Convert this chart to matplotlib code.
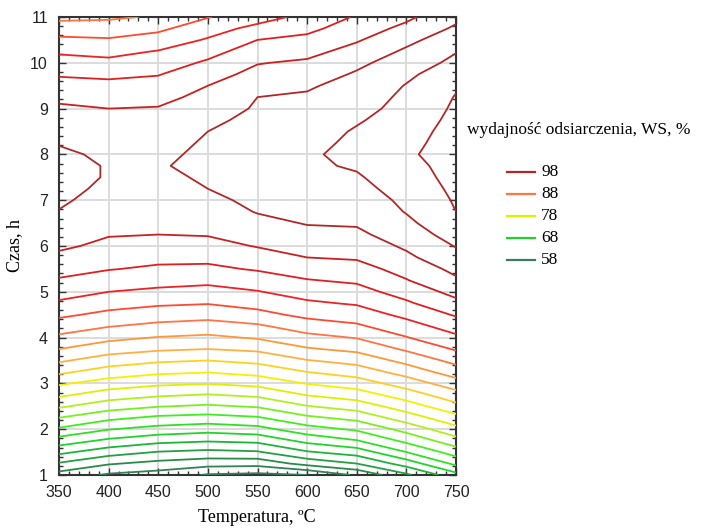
import numpy as np
import matplotlib
matplotlib.use("Agg")
import matplotlib.pyplot as plt
from matplotlib.colors import LinearSegmentedColormap
from matplotlib.lines import Line2D
from matplotlib.ticker import MultipleLocator

# Temperature grid (°C) and time grid (h)
temperature = [350, 400, 450, 500, 550, 600, 650, 700, 750]
time_h = [1.00, 1.25, 1.50, 1.75, 2.00, 2.25, 2.50, 2.75, 3.00, 3.25,
          3.50, 3.75, 4.00, 4.25, 4.50, 4.75, 5.00, 5.25, 5.50, 5.75,
          6.00, 6.25, 6.50, 6.75, 7.00, 7.25, 7.50, 7.75, 8.00, 8.25,
          8.50, 8.75, 9.00, 9.25, 9.50, 9.75, 10.00, 10.25, 10.50, 10.75,
          11.00]

# Desulphurisation efficiency WS (%), one row per time value,
# one column per temperature value
ws = [
    [61.2, 59.7, 59.1, 57.8, 57.5, 58.0, 60.3, 63.6, 67.3],
    [63.8, 62.2, 61.4, 60.8, 60.7, 62.7, 64.0, 66.9, 70.5],
    [66.5, 64.9, 63.9, 63.5, 63.8, 65.8, 66.9, 70.0, 72.9],
    [69.1, 67.6, 66.6, 66.2, 66.5, 68.6, 69.9, 72.5, 75.2],
    [71.7, 70.1, 69.3, 68.8, 69.3, 71.2, 72.3, 74.7, 77.4],
    [74.0, 72.5, 71.6, 71.3, 71.8, 73.6, 74.6, 77.0, 79.3],
    [76.3, 74.9, 74.1, 73.7, 74.2, 75.9, 76.9, 79.0, 81.4],
    [78.4, 77.0, 76.3, 75.9, 76.4, 78.1, 79.0, 81.0, 83.2],
    [80.3, 79.1, 78.4, 78.1, 78.6, 80.1, 81.0, 82.9, 85.1],
    [82.4, 81.1, 80.4, 80.1, 80.7, 82.0, 82.9, 84.8, 87.0],
    [84.3, 83.0, 82.3, 82.0, 82.5, 83.9, 84.7, 86.6, 88.6],
    [86.0, 84.9, 84.3, 84.0, 84.4, 85.8, 86.5, 88.3, 90.2],
    [87.6, 86.5, 85.9, 85.6, 86.2, 87.4, 88.1, 89.9, 91.6],
    [89.0, 88.1, 87.5, 87.2, 87.7, 89.0, 89.7, 91.2, 92.9],
    [90.4, 89.5, 89.0, 88.7, 89.4, 90.5, 91.0, 92.5, 94.2],
    [91.7, 90.8, 90.3, 90.1, 90.7, 91.7, 92.2, 93.7, 95.5],
    [92.8, 92.0, 91.6, 91.3, 91.9, 92.8, 93.3, 94.8, 96.6],
    [93.8, 93.1, 92.7, 92.5, 93.0, 93.9, 94.3, 95.9, 97.7],
    [94.7, 94.1, 93.7, 93.6, 94.2, 94.9, 95.3, 96.7, 98.5],
    [95.6, 94.8, 94.5, 94.5, 95.2, 96.0, 96.2, 97.6, 99.4],
    [96.3, 95.6, 95.3, 95.4, 96.1, 96.7, 96.9, 98.3, 100.1],
    [96.8, 96.1, 96.0, 96.1, 96.8, 97.5, 97.6, 99.0, 100.8],
    [97.4, 96.4, 96.3, 96.6, 97.5, 98.1, 98.2, 99.6, 101.4],
    [97.9, 96.7, 96.6, 97.1, 98.1, 98.4, 98.6, 100.1, 102.0],
    [98.4, 97.0, 96.9, 97.6, 98.4, 98.7, 99.0, 100.4, 102.2],
    [99.0, 97.3, 97.2, 98.0, 98.6, 99.1, 99.4, 100.8, 102.4],
    [99.0, 97.8, 97.5, 98.3, 98.9, 99.4, 99.8, 101.1, 102.6],
    [99.0, 97.8, 97.8, 98.6, 99.2, 99.7, 100.2, 101.4, 102.7],
    [98.6, 97.4, 97.5, 98.5, 99.2, 99.6, 100.8, 101.7, 102.9],
    [97.8, 96.9, 97.1, 98.3, 98.9, 99.3, 100.5, 101.4, 102.9],
    [97.3, 96.6, 96.8, 98.0, 98.7, 99.1, 100.2, 101.2, 102.7],
    [96.8, 96.3, 96.5, 97.6, 98.5, 98.8, 99.8, 100.9, 102.5],
    [96.3, 96.0, 96.1, 97.1, 98.2, 98.5, 99.4, 100.6, 102.3],
    [95.6, 95.2, 95.5, 96.5, 98.0, 98.2, 99.0, 100.4, 102.1],
    [94.7, 94.5, 94.7, 96.0, 97.3, 97.8, 98.6, 100.1, 101.8],
    [93.8, 93.6, 93.9, 95.2, 96.6, 97.1, 98.2, 99.6, 101.2],
    [92.8, 92.5, 93.0, 94.3, 95.9, 96.3, 97.6, 98.9, 100.5],
    [91.7, 91.4, 92.1, 93.3, 95.0, 95.4, 96.7, 98.3, 99.9],
    [90.4, 90.2, 90.8, 92.2, 94.0, 94.5, 95.8, 97.5, 99.1],
    [89.0, 88.9, 89.6, 91.1, 92.6, 93.5, 95.0, 96.5, 98.3],
    [87.5, 87.7, 88.2, 89.9, 91.1, 92.6, 94.2, 95.6, 97.5],
]

# Contour levels and the levels listed in the key
levels = list(range(58, 104, 2))
legend_levels = [98, 88, 78, 68, 58]

# Green -> yellow -> orange -> red scale for 58..98 %
anchor_values = [58, 62, 66, 68, 72, 76, 78, 80, 82, 84, 86, 88, 90, 92, 94, 96, 98]
anchor_colors = ["#3a7a5e", "#2a8a4a", "#1eb43a", "#22d42a", "#40ee20", "#b0f020",
                 "#dcf000", "#f5f000", "#ffd020", "#ffb040", "#ff9838", "#ff7844",
                 "#ff4a30", "#ee2222", "#e02020", "#cc2020", "#b02828"]
lo, hi = anchor_values[0], anchor_values[-1]
cmap = LinearSegmentedColormap.from_list(
    "ws", [((v - lo) / (hi - lo), c) for v, c in zip(anchor_values, anchor_colors)])


def level_color(v):
    return cmap(min(max((v - lo) / (hi - lo), 0.0), 1.0))


serif = "Liberation Serif"
sans = "Liberation Sans"

fig = plt.figure(figsize=(7.06, 5.30), dpi=100)
ax = fig.add_axes([59 / 706, 55 / 530, (456 - 59) / 706, (475 - 17) / 530])

X, Y = np.meshgrid(temperature, time_h)
Z = np.array(ws)
ax.contour(X, Y, Z, levels=levels, colors=[level_color(v) for v in levels],
           linewidths=1.3, zorder=3)

ax.set_xlim(350, 750)
ax.set_ylim(1, 11)
ax.xaxis.set_major_locator(MultipleLocator(50))
ax.xaxis.set_minor_locator(MultipleLocator(10))
ax.yaxis.set_major_locator(MultipleLocator(1))
ax.yaxis.set_minor_locator(MultipleLocator(0.2))
ax.grid(True, which="major", color="#dcdcdc", linewidth=1.4, zorder=0)
ax.set_axisbelow(True)

ax.tick_params(which="both", direction="in", top=True, right=True,
               color="#333333", width=1.0)
ax.tick_params(which="major", length=5, labelsize=11.5, labelcolor="#222222")
ax.tick_params(axis="x", which="major", pad=7)
ax.tick_params(axis="y", which="major", pad=8)
ax.tick_params(which="minor", length=3)
for lab in ax.get_xticklabels() + ax.get_yticklabels():
    lab.set_family(sans)
for sp in ax.spines.values():
    sp.set_linewidth(1.5)
    sp.set_color("#333333")

# Axis titles
fig.text(257 / 706, 1 - 518 / 530, "Temperatura, \u00baC", family=serif,
         fontsize=13, ha="center", va="center")
fig.text(15 / 706, 1 - 246 / 530, "Czas, h", family=serif, fontsize=13,
         rotation=90, ha="center", va="center")

# Key
fig.text(467 / 706, 1 - 130 / 530, "wydajność odsiarczenia, WS, %",
         family=serif, fontsize=12.5, va="center", ha="left")
for i, v in enumerate(legend_levels):
    y = 1 - (172 + 22 * i) / 530
    fig.add_artist(Line2D([507 / 706, 535 / 706], [y, y], color=level_color(v),
                          linewidth=1.6, transform=fig.transFigure))
    fig.text(541 / 706, y, str(v), family=serif, fontsize=12.5,
             va="center", ha="left")

fig.savefig("out.png", dpi=100)
